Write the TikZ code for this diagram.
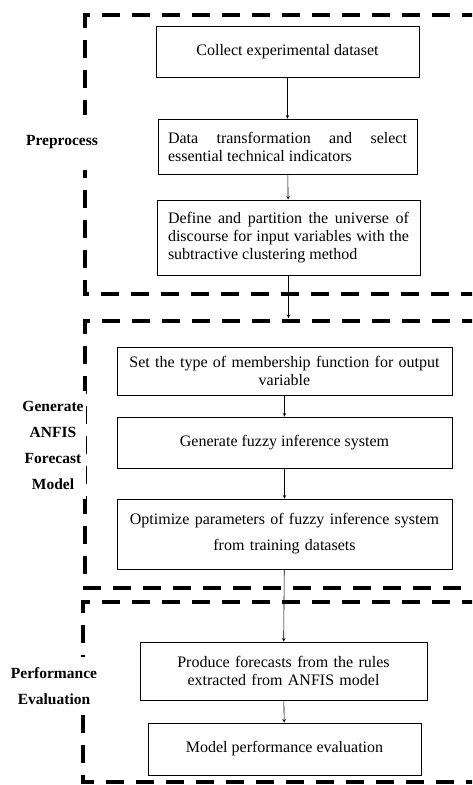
\documentclass[tikz,border=0pt]{standalone}
\usepackage{fontspec}
\setmainfont{Liberation Serif}
\usetikzlibrary{shapes.geometric, arrows}
\hyphenpenalty=10000
\tikzstyle{stepbox} = [rectangle, draw=black, line width=0.9pt, inner sep=0pt, font=\fontsize{16}{18}\selectfont]
\tikzstyle{groupbox} = [line width=4pt, dash pattern=on 18pt off 12pt]
\tikzstyle{grouplabel} = [fill=white, align=center, inner xsep=2pt, inner ysep=10pt, font=\fontsize{15.5}{26}\selectfont\bfseries]
\tikzstyle{arrow} = [line width=0.6pt,->,>=stealth]
\begin{document}
\begin{tikzpicture}[x=1pt, y=1pt, node distance=91pt]
\useasboundingbox (0,0) rectangle (472,-785);
\clip (0,0) rectangle (472,-785);
% dashed group frames
\draw [groupbox] (540,-15) -| (85,-294) -- (540,-294);
\draw [groupbox] (540,-321) -| (85,-588) -- (540,-588);
\draw [groupbox] (540,-602) -| (83,-782) -- (540,-782);
\node (pre) [grouplabel, minimum height=55pt] at (62,-142) {Preprocess};
\node (gen) [grouplabel] at (53,-445) {Generate\\ANFIS\\Forecast\\Model};
\node (perf) [grouplabel] at (54,-686) {Performance\\Evaluation};
% steps
\node (collect) [stepbox, minimum width=263pt, minimum height=51pt] at (287.5,-51.5) {Collect experimental dataset};
\node (transform) [stepbox, below of=collect, yshift=-4pt, minimum width=259pt, minimum height=55pt, text width=239pt, align=justify] {Data transformation and select essential technical indicators};
\node (partition) [stepbox, below of=transform, xshift=1pt, minimum width=263pt, minimum height=75pt, text width=241pt, align=justify] {Define and partition the universe of discourse for input variables with the subtractive clustering method\par\vspace{16pt}};
\node (member) [stepbox, below of=partition, xshift=-4pt, yshift=-42.5pt, minimum width=335pt, minimum height=48pt, text width=315pt, align=center] {Set the type of membership function for output\\variable};
\node (fis) [stepbox, below of=member, yshift=19.5pt, minimum width=335pt, minimum height=51pt] {Generate fuzzy inference system};
\node (optimize) [stepbox, below of=fis, yshift=-0.5pt, minimum width=335pt, minimum height=70pt, text width=315pt, align=center] {Optimize parameters of fuzzy inference system\\[8pt]from training datasets};
\node (produce) [stepbox, below of=optimize, xshift=-1pt, yshift=-46pt, minimum width=287pt, minimum height=58pt, text width=270pt, align=center] {Produce forecasts from the rules\\extracted from ANFIS model};
\node (evaluate) [stepbox, below of=produce, xshift=1pt, yshift=13pt, minimum width=273pt, minimum height=52pt] {Model performance evaluation};
\coordinate (entry) at (partition.south |- 0,-318);
% connectors
\draw [arrow] (collect) -- (transform);
\draw [arrow] (transform) -- (partition);
\draw [arrow] (partition) -- (entry);
\draw [arrow] (member) -- (fis);
\draw [arrow] (fis) -- (optimize);
\draw [arrow] (optimize) -- (produce);
\draw [arrow] (produce) -- (evaluate);
\end{tikzpicture}
\end{document}
